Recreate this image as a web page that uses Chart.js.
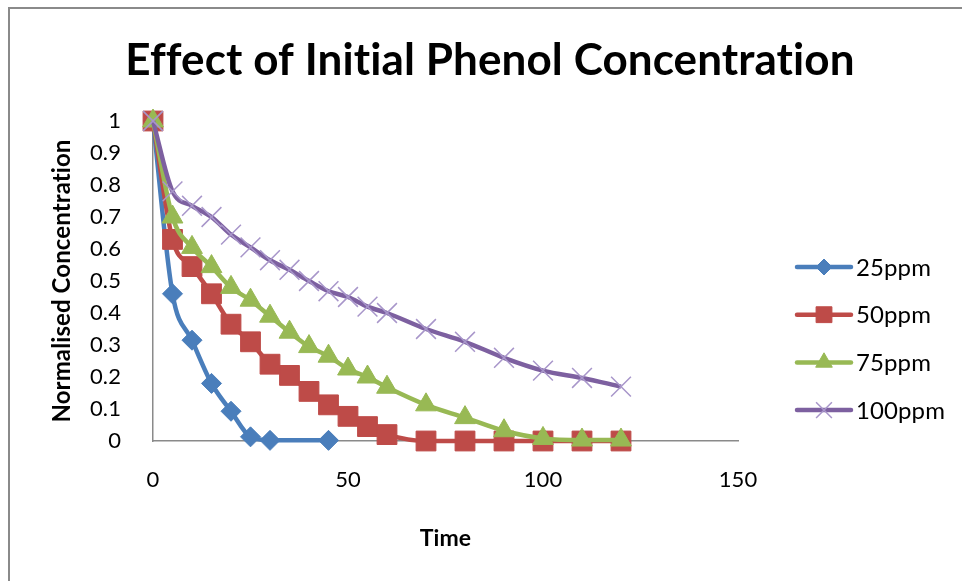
<!DOCTYPE html>
<html lang="en">
<head>
    <meta charset="UTF-8">
    <title>Effect of Initial Phenol Concentration</title>
    <script src="https://cdn.jsdelivr.net/npm/chart.js"></script>
    <style>
        body { margin: 0; background: #fff; }
        #wrap { width: 962px; height: 581px; }
    </style>
</head>
<body>

<div id="wrap">
    <canvas id="chart" width="962" height="581"></canvas>
</div>

<script>
    // Sampling times (min) and normalised phenol concentration C/C0
    const time25 = [0, 5, 10, 15, 20, 25, 30, 45];
    const time50to100 = [0, 5, 10, 15, 20, 25, 30, 35, 40, 45, 50, 55, 60, 70, 80, 90, 100, 110, 120];

    const conc25 = [1, 0.46, 0.315, 0.18, 0.093, 0.013, 0.002, 0.002];
    const conc50 = [1, 0.63, 0.545, 0.46, 0.365, 0.31, 0.24, 0.205, 0.155, 0.113, 0.077, 0.045, 0.02, 0, 0, 0, 0, 0, 0];
    const conc75 = [1, 0.70, 0.605, 0.545, 0.48, 0.44, 0.39, 0.34, 0.295, 0.265, 0.225, 0.2, 0.168, 0.113, 0.073, 0.032, 0.008, 0.003, 0.003];
    const conc100 = [1, 0.78, 0.735, 0.70, 0.645, 0.605, 0.565, 0.535, 0.50, 0.468, 0.45, 0.42, 0.40, 0.35, 0.31, 0.26, 0.22, 0.197, 0.17];

    const seriesNames = ['25ppm', '50ppm', '75ppm', '100ppm'];
    const yTicks = [0, 0.1, 0.2, 0.3, 0.4, 0.5, 0.6, 0.7, 0.8, 0.9, 1];
    const xTicks = [0, 50, 100, 150];
    const chartTitle = 'Effect of Initial Phenol Concentration';

    const FONT = 'Lato, "Open Sans", sans-serif';

    const toPoints = (xs, ys) => xs.map((x, i) => ({ x: x, y: ys[i] }));

    const styles = [
        { color: '#4A7EBB', marker: 'rectRot', radius: 10, markerBorder: '#4A7EBB', markerWidth: 1 },
        { color: '#BE4B48', marker: 'rect', radius: 14, markerBorder: '#BE4B48', markerWidth: 1 },
        { color: '#98B954', marker: 'triangle', radius: 12, markerBorder: '#98B954', markerWidth: 1 },
        { color: '#7D60A0', marker: 'crossRot', radius: 14, markerBorder: '#A896CA', markerWidth: 1.5 }
    ];

    const seriesData = [
        toPoints(time25, conc25),
        toPoints(time50to100, conc50),
        toPoints(time50to100, conc75),
        toPoints(time50to100, conc100)
    ];

    const datasets = seriesNames.map((name, i) => ({
        label: name,
        data: seriesData[i],
        borderColor: styles[i].color,
        backgroundColor: styles[i].color,
        borderWidth: 4.5,
        pointStyle: styles[i].marker,
        pointRadius: styles[i].radius,
        pointBackgroundColor: styles[i].color,
        pointBorderColor: styles[i].markerBorder,
        pointBorderWidth: styles[i].markerWidth,
        cubicInterpolationMode: 'monotone',
        clip: false,
        order: seriesNames.length - 1 - i   // later series sit on top
    }));

    // White page, grey frame along the top and left edges, and the title
    const framePlugin = {
        id: 'frame',
        beforeDraw(chart) {
            const ctx = chart.ctx;
            ctx.save();
            ctx.fillStyle = '#fff';
            ctx.fillRect(0, 0, chart.width, chart.height);
            ctx.strokeStyle = '#8a8a8a';
            ctx.lineWidth = 2;
            ctx.beginPath();
            ctx.moveTo(9, chart.height);
            ctx.lineTo(9, 8);
            ctx.lineTo(chart.width, 8);
            ctx.stroke();

            ctx.letterSpacing = '0.1px';
            ctx.fillStyle = '#000';
            ctx.font = 'bold 44px ' + FONT;
            ctx.textAlign = 'center';
            ctx.textBaseline = 'middle';
            ctx.fillText(chartTitle, 490, 61);
            ctx.restore();
            // keeps Lato from joining "ti" in the axis titles
            ctx.letterSpacing = '0.1px';
        }
    };

    // Legend on the right: line sample with a smaller marker in the middle
    const sideLegend = {
        id: 'sideLegend',
        afterDraw(chart) {
            const ctx = chart.ctx;
            const x0 = 797, x1 = 851, top = 267, gap = 47.7;
            ctx.save();
            chart.data.datasets.forEach((ds, i) => {
                const y = top + i * gap;
                ctx.strokeStyle = ds.borderColor;
                ctx.lineWidth = 4.5;
                ctx.lineCap = 'round';
                ctx.beginPath();
                ctx.moveTo(x0, y);
                ctx.lineTo(x1, y);
                ctx.stroke();
                ctx.lineCap = 'butt';
                ctx.fillStyle = ds.pointBackgroundColor;
                ctx.strokeStyle = ds.pointBorderColor;
                ctx.lineWidth = ds.pointBorderWidth;
                Chart.helpers.drawPoint(ctx, {
                    pointStyle: ds.pointStyle,
                    radius: ds.pointRadius * 0.8,
                    borderWidth: ds.pointBorderWidth
                }, (x0 + x1) / 2, y);
                ctx.fillStyle = '#000';
                ctx.font = '24px ' + FONT;
                ctx.textBaseline = 'middle';
                ctx.textAlign = 'left';
                ctx.fillText(ds.label, x1 + 5, y + 1);
            });
            ctx.restore();
        }
    };

    const ctx = document.getElementById('chart').getContext('2d');
    new Chart(ctx, {
        type: 'line',
        data: { datasets: datasets },
        plugins: [framePlugin, sideLegend],
        options: {
            responsive: false,
            animation: false,
            layout: {
                padding: { left: 0, right: 224, top: 121, bottom: 0 }
            },
            plugins: {
                legend: { display: false },
                tooltip: { enabled: false },
                title: { display: false }
            },
            scales: {
                x: {
                    type: 'linear',
                    min: 0,
                    max: 150,
                    afterBuildTicks: axis => { axis.ticks = xTicks.map(v => ({ value: v })); },
                    afterFit: axis => { axis.height = 140; },
                    grid: { display: false },
                    border: { display: true, color: '#8a8a8a', width: 1.5 },
                    ticks: {
                        color: '#000',
                        font: { family: FONT, size: 22 },
                        padding: 18,
                        maxRotation: 0
                    },
                    title: {
                        display: true,
                        text: 'Time',
                        color: '#000',
                        font: { family: FONT, size: 23, weight: 'bold', lineHeight: 1.2 },
                        padding: { top: 0, bottom: 29 }
                    }
                },
                y: {
                    min: 0,
                    max: 1,
                    afterBuildTicks: axis => { axis.ticks = yTicks.map(v => ({ value: v })); },
                    afterFit: axis => { axis.width = 153; },
                    grid: { display: false },
                    border: { display: true, color: '#8a8a8a', width: 1.5 },
                    ticks: {
                        color: '#000',
                        font: { family: FONT, size: 22 },
                        padding: 24,
                        callback: v => String(Number(v.toFixed(1)))
                    },
                    title: {
                        display: true,
                        text: 'Normalised Concentration',
                        color: '#000',
                        font: { family: FONT, size: 24, weight: 'bold', lineHeight: 1.2 },
                        padding: { top: 48, bottom: 0 }
                    }
                }
            }
        }
    });
</script>
</body>
</html>
